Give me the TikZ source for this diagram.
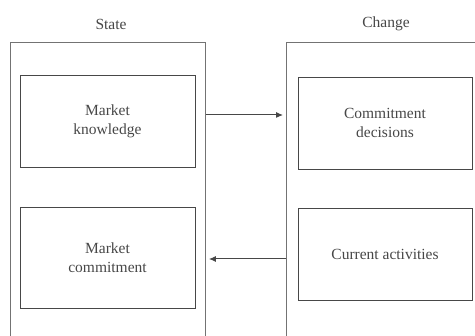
\documentclass[tikz,border=0pt]{standalone}
\usepackage{fontspec}
\setmainfont{Liberation Serif}
\usetikzlibrary{arrows.meta}
\colorlet{boxgray}{black!72}
\colorlet{framegray}{black!55}

\begin{document}
\begin{tikzpicture}[x=1pt,y=-1pt,
  inner/.style={draw=boxgray,line width=0.85pt,minimum width=175pt,minimum height=92pt,
    align=center,text=black!72,font=\fontsize{15.5}{19}\selectfont},
  frame/.style={draw=framegray,line width=0.9pt,anchor=north west,minimum height=330pt},
  head/.style={text=black!72,font=\fontsize{15.5}{19}\selectfont},
  link/.style={-{Latex[length=7pt,width=6pt]},boxgray,line width=1pt}]
\useasboundingbox (0,0) rectangle (475,336);
\clip (0,0) rectangle (475,336);

% the two frames, cut off at the edges
\node[frame,minimum width=195pt] (state) at (10,42) {};
\node[frame,minimum width=220pt] (change) at (286,42) {};

\node[head] (statelbl) at (111,24) {State};
\node[head] (changelbl) at (386,24) {Change};

\node[inner] (know) at (107.5,121) {Market\\knowledge};
\node[inner,minimum height=101pt] (commit) at (107.5,257.5) {Market\\commitment};
\node[inner,minimum width=174pt] (decide) at (385,123) {Commitment\\decisions};
\node[inner,minimum width=174pt] (activ) at (385,254) {Current activities};

\coordinate (a1) at (0,115);
\coordinate (a2) at (0,259);
\draw[link] (state.east |- a1) -- ([xshift=-3pt]change.west |- a1);
\draw[link] (change.west |- a2) -- ([xshift=3pt]state.east |- a2);

\end{tikzpicture}
\end{document}
